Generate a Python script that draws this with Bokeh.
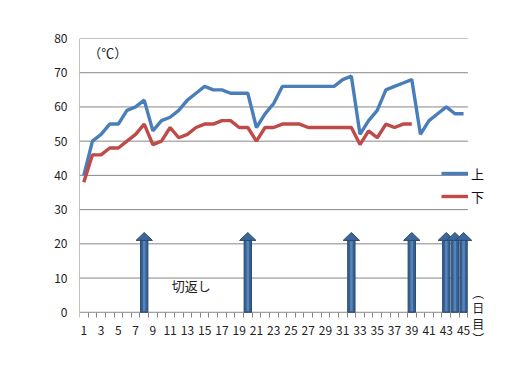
from bokeh.plotting import figure
from bokeh.models import Range1d, FixedTicker, Label, Legend, LegendItem
from bokeh.embed import file_html
from bokeh.resources import INLINE

# ---- data ----
days = list(range(1, 46))
upper = [40, 50, 52, 55, 55, 59, 60, 62, 53, 56, 57, 59, 62, 64, 66, 65, 65, 64, 64, 64,
         54, 58, 61, 66, 66, 66, 66, 66, 66, 66, 68, 69, 52, 56, 59, 65, 66, 67, 68, 52,
         56, 58, 60, 58, 58]
lower_days = list(range(1, 40))
lower = [38, 46, 46, 48, 48, 50, 52, 55, 49, 50, 54, 51, 52, 54, 55, 55, 56, 56, 54, 54,
         50, 54, 54, 55, 55, 55, 54, 54, 54, 54, 54, 54, 49, 53, 51, 55, 54, 55, 55]
turn_days = [8, 20, 32, 39, 43, 44, 45]
arrow_top = 23.3
arrow_base = 21.0
x_label_days = list(range(1, 46, 2))
y_ticks = [0, 10, 20, 30, 40, 50, 60, 70, 80]
series_names = ["上", "下"]

FONT = "Noto Sans CJK JP"
GRID = "#868686"
x_start = days[0] - 0.5
x_end_cat = days[-1] + 0.5
y_min, y_max = y_ticks[0], y_ticks[-1]

p = figure(frame_width=421, frame_height=308, output_backend="svg", toolbar_location=None,
           x_range=Range1d(x_start, 49.28), y_range=Range1d(-10, y_max),
           min_border_left=79, min_border_right=12, min_border_top=38, min_border_bottom=0)
p.outline_line_color = None
p.background_fill_color = "white"
p.border_fill_color = "white"
p.xgrid.grid_line_color = None
p.ygrid.grid_line_color = None

# horizontal gridlines only across the category area
p.segment(x0=[x_start] * len(y_ticks), x1=[x_end_cat] * len(y_ticks),
          y0=y_ticks, y1=y_ticks, line_color=GRID, line_width=1)
# value axis line
p.segment(x0=[x_start], x1=[x_start], y0=[y_min], y1=[y_max], line_color=GRID, line_width=1)

# axes
p.xaxis.fixed_location = 0
p.xaxis.ticker = FixedTicker(ticks=x_label_days,
                             minor_ticks=[d - 0.5 for d in days] + [x_end_cat])
p.xaxis.major_tick_out = 0
p.xaxis.major_tick_in = 0
p.xaxis.minor_tick_out = 5
p.xaxis.minor_tick_in = 0
p.xaxis.minor_tick_line_color = GRID
p.xaxis.axis_line_color = None
p.xaxis.major_label_standoff = 9
p.yaxis.ticker = FixedTicker(ticks=y_ticks)
p.yaxis.major_tick_out = 0
p.yaxis.major_tick_in = 0
p.yaxis.minor_tick_line_color = None
p.yaxis.axis_line_color = None
p.yaxis.major_label_standoff = 12
for ax in (p.xaxis[0], p.yaxis[0]):
    ax.major_label_text_font = FONT
    ax.major_label_text_font_size = "12px"
    ax.major_label_text_color = "#222222"

# arrows (切返し)
p.vbar(x=turn_days, bottom=0, top=arrow_base, width=0.85,
       fill_color="#36608f", line_color="#2a4a72", line_width=1)
p.vbar(x=turn_days, bottom=0.3, top=arrow_base, width=0.3,
       fill_color="#5683bb", line_color=None)
head_xs = [[d - 0.95, d, d + 0.95] for d in turn_days]
head_ys = [[arrow_base, arrow_top, arrow_base] for d in turn_days]
p.patches(head_xs, head_ys, fill_color="#3d6798", line_color="#2a4a72", line_width=1)

# lines
r_up = p.line(days, upper, line_color="#4a7ebb", line_width=3.4)
r_lo = p.line(lower_days, lower, line_color="#be4b48", line_width=3.4)

legend = Legend(items=[LegendItem(label=series_names[0], renderers=[r_up]),
                       LegendItem(label=series_names[1], renderers=[r_lo])],
                location=(362, 140), orientation="vertical",
                padding=0, margin=0, spacing=3,
                glyph_width=27, glyph_height=20, label_height=20,
                label_standoff=3, border_line_color=None,
                background_fill_alpha=0,
                label_text_font=FONT, label_text_font_size="13px",
                label_text_color="#111111")
p.add_layout(legend, "center")

p.add_layout(Label(x=1.5, y=76, text="（℃）", text_font=FONT, text_font_size="13px",
                   text_baseline="middle", text_color="#222222"))
p.add_layout(Label(x=11.2, y=7.8, text="切返し", text_font=FONT, text_font_size="13px",
                   text_baseline="middle", text_color="#222222"))
p.add_layout(Label(x=46.7, y=-0.9, text="︵\n日\n目\n︶", text_font=FONT,
                   text_font_size="12px", text_align="center", text_baseline="middle",
                   text_line_height=0.9, text_color="#222222"))

open("out.html", "w").write(file_html(p, INLINE))
